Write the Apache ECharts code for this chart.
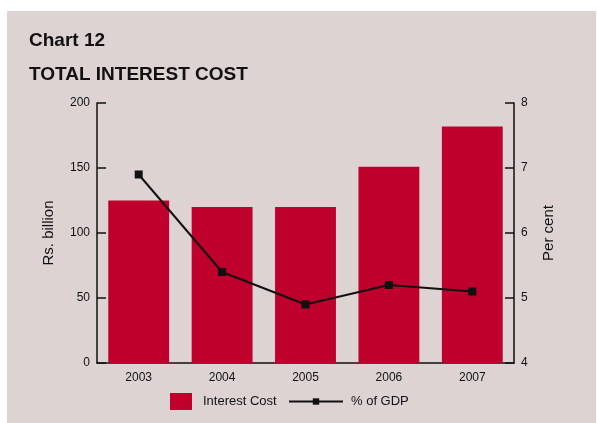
<!DOCTYPE html>
<html>
<head>
<meta charset="utf-8">
<script src="https://cdn.jsdelivr.net/npm/echarts@6/dist/echarts.min.js"></script>
<style>
  html, body { margin: 0; padding: 0; background: #ffffff; }
  #chart { width: 597px; height: 423px; }
</style>
</head>
<body>
<div id="chart"></div>
<script>
// Total interest cost by year (Rs. billion) and as a share of GDP (per cent)
const years = ['2003', '2004', '2005', '2006', '2007'];
const interestCost = [125, 120, 120, 151, 182];
const pctOfGdp = [6.9, 5.4, 4.9, 5.2, 5.1];

const leftTicks = { min: 0, max: 200, interval: 50 };
const rightTicks = { min: 4, max: 8, interval: 1 };

const panel = '#ddd3d3';
const barRed = '#c0002c';
const ink = '#111111';
const font = 'Liberation Sans, Arial, sans-serif';

const chart = echarts.init(document.getElementById('chart'), null, { renderer: 'canvas' });

chart.setOption({
  backgroundColor: '#ffffff',
  animation: false,
  graphic: [{
    type: 'rect',
    z: -10,
    silent: true,
    shape: { x: 7, y: 11, width: 589, height: 412 },
    style: { fill: panel }
  }],
  title: [{
    text: 'Chart 12',
    left: 29, top: 31, padding: 0,
    textStyle: { fontFamily: font, fontWeight: 'bold', fontSize: 19, color: ink }
  }, {
    text: 'TOTAL INTEREST COST',
    left: 29, top: 65, padding: 0,
    textStyle: { fontFamily: font, fontWeight: 'bold', fontSize: 19, color: ink }
  }],
  legend: [{
    data: [{ name: 'Interest Cost', icon: 'rect' }],
    left: 170, top: 393, padding: 0,
    itemWidth: 22, itemHeight: 17, itemGap: 10,
    textStyle: { fontFamily: font, fontSize: 13, color: ink, padding: [0, 0, 0, 6] }
  }, {
    data: ['% of GDP'],
    left: 288, top: 395, padding: 0,
    itemWidth: 54, itemHeight: 8,
    itemStyle: { borderWidth: 0 },
    textStyle: { fontFamily: font, fontSize: 13, color: ink, padding: [0, 0, 0, 3] }
  }],
  grid: { left: 97, right: 83, top: 103, bottom: 60 },
  xAxis: {
    type: 'category',
    data: years,
    axisLine: { lineStyle: { color: ink, width: 1.5 } },
    axisTick: { inside: true, length: 9, lineStyle: { color: ink, width: 1.5 } },
    axisLabel: { margin: 9, fontFamily: font, fontSize: 12, color: ink },
    splitLine: { show: false }
  },
  yAxis: [{
    type: 'value',
    min: leftTicks.min, max: leftTicks.max, interval: leftTicks.interval,
    name: 'Rs. billion',
    nameLocation: 'middle',
    nameGap: 41,
    nameTextStyle: { fontFamily: font, fontSize: 15, color: ink },
    axisLine: { show: true, lineStyle: { color: ink, width: 1.5 } },
    axisTick: { show: true, inside: true, length: 9, lineStyle: { color: ink, width: 1.5 } },
    axisLabel: { margin: 7, fontFamily: font, fontSize: 12, color: ink },
    splitLine: { show: false }
  }, {
    type: 'value',
    position: 'right',
    min: rightTicks.min, max: rightTicks.max, interval: rightTicks.interval,
    name: 'Per cent',
    nameLocation: 'middle',
    nameGap: 27,
    nameTextStyle: { fontFamily: font, fontSize: 15, color: ink },
    axisLine: { show: true, lineStyle: { color: ink, width: 1.5 } },
    axisTick: { show: true, inside: true, length: 9, lineStyle: { color: ink, width: 1.5 } },
    axisLabel: { margin: 7, fontFamily: font, fontSize: 12, color: ink },
    splitLine: { show: false }
  }],
  series: [{
    name: 'Interest Cost',
    type: 'bar',
    yAxisIndex: 0,
    data: interestCost,
    barWidth: '73%',
    itemStyle: { color: barRed }
  }, {
    name: '% of GDP',
    type: 'line',
    yAxisIndex: 1,
    data: pctOfGdp,
    symbol: 'rect',
    symbolSize: 8,
    showSymbol: true,
    lineStyle: { color: ink, width: 2 },
    itemStyle: { color: ink }
  }]
});
</script>
</body>
</html>
